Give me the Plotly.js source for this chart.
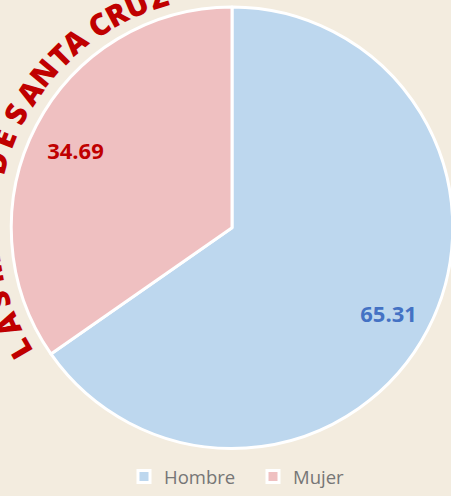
<!DOCTYPE html>
<html>
<head>
<meta charset="utf-8">
<script src="https://cdn.plot.ly/plotly-3.0.1.min.js"></script>
<style>
html,body{margin:0;padding:0;overflow:hidden;background:#F3ECDF;}
#chart{width:480px;height:496px;}
</style>
</head>
<body>
<div id="chart"></div>
<script>
// Data
var labels = ["Hombre", "Mujer"];
var values = [65.31, 34.69];
var sliceColors = ["#BDD7EE", "#EFC0C1"];
var labelColors = ["#4472C4", "#C00000"];

// Decorative curved title (visible letters only, rest is off-canvas)
var arcLetters = ["L","A","S","M","D","E","S","A","N","T","A","C","R","U","Z"];
var arcAngles  = [150,156.5,162.5,170,195.5,201.5,208,214,219.7,225.3,230,237,242,247,252.5];

var W = 480, H = 496;
var cx = 232, cy = 230, rText = 245;

var annotations = arcLetters.map(function(ch, i){
  var a = arcAngles[i] * Math.PI / 180;
  var px = cx + rText * Math.cos(a);
  var py = cy + rText * Math.sin(a);
  var rot = arcAngles[i] + 90;
  if (rot > 180) rot -= 360;
  return {
    text: ch, x: px / W, y: 1 - py / H, xref: "paper", yref: "paper",
    xanchor: "center", yanchor: "middle", showarrow: false, textangle: rot,
    font: {family: "'Open Sans', sans-serif", size: 30, color: "#C00000", weight: 800}
  };
});

var dom = {x: [9 / W, 455 / W], y: [(H - 453) / H, (H - 7) / H]};
var domText = {x: dom.x, y: [(H - 457) / H, (H - 11) / H]};

var pieMain = {
  type: "pie", labels: labels, values: values, sort: false, direction: "clockwise", rotation: 0,
  marker: {colors: sliceColors, line: {color: "#FFFFFF", width: 3}},
  textinfo: "none", hoverinfo: "label+value", domain: dom, showlegend: true
};

var pieText = {
  type: "pie", labels: labels, values: values, sort: false, direction: "clockwise", rotation: 0,
  hole: 0.6, marker: {colors: ["rgba(0,0,0,0)", "rgba(0,0,0,0)"], line: {width: 0}},
  texttemplate: "%{value:.2f}", textposition: "inside", insidetextorientation: "horizontal",
  textfont: {family: "'Open Sans', sans-serif", size: 22, color: labelColors, weight: 700},
  hoverinfo: "skip", domain: domText, showlegend: false
};

var layout = {
  width: W, height: H,
  margin: {l: 0, r: 0, t: 0, b: 0},
  paper_bgcolor: "#F3ECDF", plot_bgcolor: "#F3ECDF",
  showlegend: true,
  legend: {
    orientation: "h", x: 124 / W, xanchor: "left", y: (H - 482) / H, yanchor: "middle",
    entrywidth: 84, entrywidthmode: "pixels",
    font: {family: "'Open Sans', sans-serif", size: 18.5, color: "#767676"},
    bgcolor: "rgba(0,0,0,0)", itemclick: false
  },
  annotations: annotations
};

Plotly.newPlot("chart", [pieMain, pieText], layout, {displayModeBar: false, staticPlot: true});
</script>
</body>
</html>
